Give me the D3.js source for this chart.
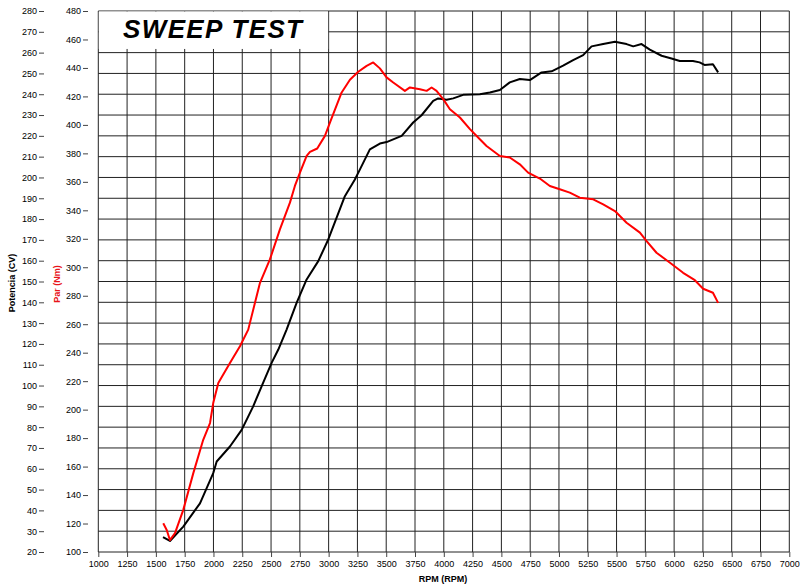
<!DOCTYPE html>
<html>
<head>
<meta charset="utf-8">
<script src="https://cdn.jsdelivr.net/npm/d3@7"></script>
<style>
  body { margin: 0; background: #fff; }
  text { font-family: "Liberation Sans", Arial, sans-serif; }
</style>
</head>
<body>
<svg id="chart" width="803" height="587"></svg>
<script>
// Power curve (CV, left axis) - black
const powerRpm = [1562, 1622, 1738, 1883, 1998, 2028, 2143, 2245, 2345, 2418, 2505, 2563, 2635, 2722, 2809,
  2910, 2997, 3141, 3228, 3272, 3358, 3445, 3503, 3634, 3734, 3807, 3908, 3951, 4024, 4082, 4168, 4313,
  4400, 4487, 4573, 4660, 4747, 4849, 4936, 5036, 5123, 5210, 5283, 5384, 5486, 5587, 5645, 5717, 5789,
  5891, 5977, 6049, 6163, 6221, 6264, 6337, 6382]
const powerCv = [27.2, 25.3, 32.2, 43.4, 57.9, 63.5, 70.7, 78.7, 90, 99.6, 110.9, 117.3, 126.9, 139.7, 151,
  159.8, 170.2, 191, 199, 203.9, 213.5, 216.3, 217, 220, 226.4, 229.9, 236.8, 238, 237.3, 238, 239.7, 240,
  240.8, 242, 245.7, 247.3, 246.8, 250.5, 251, 253.7, 256.4, 258.8, 263, 264.1, 265.2, 264.1, 263, 264.1, 261.4,
  258.5, 257.2, 256, 256, 255.3, 254.1, 254.4, 250.5]

// Torque curve (Nm, right axis) - red
const torqueRpm = [1564, 1594, 1622, 1666, 1738, 1825, 1911, 1970, 1998, 2042, 2143, 2230, 2302, 2404, 2490,
  2577, 2664, 2707, 2751, 2809, 2838, 2901, 2968, 3012, 3113, 3185, 3257, 3330, 3387, 3445, 3503, 3561,
  3662, 3706, 3793, 3851, 3894, 3937, 3995, 4053, 4140, 4227, 4313, 4371, 4487, 4573, 4660, 4732, 4834,
  4921, 5007, 5094, 5181, 5297, 5384, 5486, 5587, 5703, 5761, 5847, 5964, 6078, 6180, 6252, 6337, 6382]
const torqueNm = [120.2, 115.5, 108.4, 113.2, 129.6, 155.4, 178.8, 190.6, 204.6, 218.7, 232.8, 244.5, 256.2, 289.1, 305.5,
  326.6, 345.4, 357.1, 366.5, 378.2, 381, 383.4, 392.3, 401.7, 422.8, 431.7, 437.3, 441.5, 443.9, 439.7, 433.4, 429.8,
  423.9, 426.3, 425.1, 423.9, 426.3, 423.9, 418.1, 411, 405.2, 397, 389.9, 385.2, 378.2, 377.1, 372.3, 366.5, 362.3,
  357.1, 354.8, 352.4, 348.9, 347.7, 344.2, 339.5, 331.3, 324.3, 318.4, 310.2, 303.2, 296.1, 290.9, 284.9, 282.1, 275]

const rpmTicks = d3.range(1000, 7001, 250)
const cvTicks = d3.range(20, 281, 10)
const nmTicks = d3.range(100, 481, 20)

const svg = d3.select('#chart')

const x = d3.scaleLinear().domain([1000, 7000]).range([98.3, 789.3])
const yCv = d3.scaleLinear().domain([20, 280]).range([552, 11])
const yNm = d3.scaleLinear().domain([100, 480]).range([552, 11])

// Grid
const grid = svg.append('g').attr('stroke', '#222').attr('stroke-width', 1)
grid.selectAll('line.v').data(rpmTicks).join('line')
  .attr('class', 'v')
  .attr('x1', d => x(d)).attr('x2', d => x(d))
  .attr('y1', yCv(280)).attr('y2', yCv(20))
grid.selectAll('line.h').data(cvTicks).join('line')
  .attr('class', 'h')
  .attr('x1', x(1000)).attr('x2', x(7000))
  .attr('y1', d => yCv(d)).attr('y2', d => yCv(d))

// Title box
svg.append('rect')
  .attr('x', x(1000) + 0.5).attr('y', yCv(280) + 0.5)
  .attr('width', x(3000) - x(1000) - 1)
  .attr('height', yCv(262) - yCv(280))
  .attr('fill', '#fff')
svg.append('text')
  .attr('x', 123).attr('y', 38)
  .attr('font-size', 26).attr('font-weight', 'bold').attr('font-style', 'italic')
  .attr('textLength', 179).attr('lengthAdjust', 'spacing')
  .text('SWEEP TEST')

// Axes
function styleAxis (g) {
  g.select('.domain').remove()
  g.selectAll('.tick line').attr('stroke', '#444')
  g.selectAll('.tick text').attr('fill', '#000')
    .style('font-family', '"Liberation Sans", Arial, sans-serif')
    .attr('font-size', 9)
}

svg.append('g')
  .attr('transform', 'translate(44,0)')
  .call(d3.axisLeft(yCv).tickValues(cvTicks).tickSize(5).tickPadding(2))
  .call(styleAxis)

svg.append('g')
  .attr('transform', 'translate(88,0)')
  .call(d3.axisLeft(yNm).tickValues(nmTicks).tickSize(5).tickPadding(2))
  .call(styleAxis)

svg.append('g')
  .attr('transform', 'translate(0,552)')
  .call(d3.axisBottom(x).tickValues(rpmTicks).tickSize(5).tickPadding(4).tickFormat(d3.format('d')))
  .call(styleAxis)

// Axis titles
svg.append('text')
  .attr('transform', 'translate(15,283) rotate(-90)')
  .attr('text-anchor', 'middle').attr('font-size', 9).attr('font-weight', 'bold')
  .text('Potencia (CV)')
svg.append('text')
  .attr('transform', 'translate(60,284) rotate(-90)')
  .attr('text-anchor', 'middle').attr('font-size', 9).attr('font-weight', 'bold')
  .attr('fill', '#e8141a')
  .text('Par (Nm)')
svg.append('text')
  .attr('x', 443).attr('y', 582)
  .attr('text-anchor', 'middle').attr('font-size', 9).attr('font-weight', 'bold')
  .text('RPM (RPM)')

// Curves
const powerLine = d3.line().x(d => x(d[0])).y(d => yCv(d[1]))
const torqueLine = d3.line().x(d => x(d[0])).y(d => yNm(d[1]))

svg.append('path')
  .datum(d3.zip(powerRpm, powerCv))
  .attr('d', powerLine)
  .attr('fill', 'none').attr('stroke', '#000').attr('stroke-width', 2)
  .attr('stroke-linejoin', 'round')

svg.append('path')
  .datum(d3.zip(torqueRpm, torqueNm))
  .attr('d', torqueLine)
  .attr('fill', 'none').attr('stroke', '#ff0000').attr('stroke-width', 2)
  .attr('stroke-linejoin', 'round')
</script>
</body>
</html>
